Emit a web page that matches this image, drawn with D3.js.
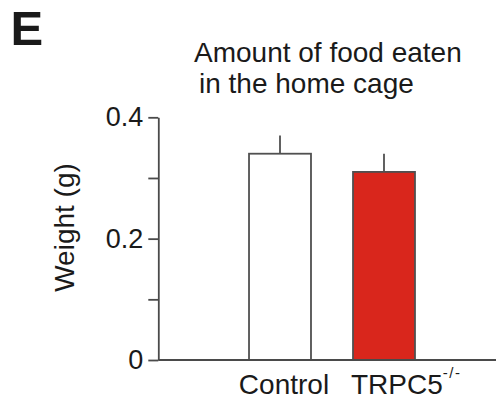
<!DOCTYPE html>
<html>
<head>
<meta charset="utf-8">
<script src="https://cdn.jsdelivr.net/npm/d3@7"></script>
<style>
  html, body { margin: 0; padding: 0; background: #fff; }
  svg { display: block; }
  text { font-family: Arial, "Liberation Sans", Helvetica, sans-serif; fill: #1a1a1a; }
</style>
</head>
<body>
<svg id="chart" width="498" height="402"></svg>
<script>
// Food intake in the home cage, control vs knockout
const groups = ["Control", "TRPC5"];
const means = [0.34, 0.31];
const sems = [0.03, 0.03];
const fills = ["#ffffff", "#d9261c"];
const tickValues = [0, 0.1, 0.2, 0.3, 0.4];
const tickLabels = { 0: "0", 0.2: "0.2", 0.4: "0.4" };

const svg = d3.select("#chart");
const axisColor = "#4a4a4a";

const y = d3.scaleLinear().domain([0, 0.4]).range([360, 117.3]);
const x = d3.scaleBand()
  .domain(groups)
  .range([207, 457])
  .paddingInner(0.404)
  .paddingOuter(0.404);

const axisX0 = 158.3;
const axisX1 = 496;

// Panel letter
svg.append("text")
  .attr("x", 10.5).attr("y", 45)
  .attr("font-size", 49).attr("font-weight", "bold")
  .text("E");

// Title
const title = svg.append("text").attr("font-size", 28);
title.append("tspan").attr("x", 194).attr("y", 62).text("Amount of food eaten");
title.append("tspan").attr("x", 199).attr("y", 93).text("in the home cage");

// Y axis
const yAxis = d3.axisLeft(y)
  .tickValues(tickValues)
  .tickSize(10)
  .tickSizeOuter(0)
  .tickPadding(5)
  .tickFormat(d => tickLabels[d] !== undefined ? tickLabels[d] : "");

const gy = svg.append("g")
  .attr("transform", `translate(${axisX0},0)`)
  .call(yAxis);
gy.selectAll("path, line").attr("stroke", axisColor).attr("stroke-width", 1.8);
gy.selectAll("text")
  .attr("font-size", 27)
  .attr("font-family", "Arial, 'Liberation Sans', sans-serif")
  .attr("fill", "#1a1a1a");

// Y axis title
svg.append("text")
  .attr("transform", `translate(74.3,227.5) rotate(-90)`)
  .attr("text-anchor", "middle")
  .attr("font-size", 28)
  .text("Weight (g)");

// Bars
svg.append("g").selectAll("rect")
  .data(groups)
  .join("rect")
  .attr("x", d => x(d))
  .attr("y", (d, i) => y(means[i]))
  .attr("width", x.bandwidth())
  .attr("height", (d, i) => y(0) - y(means[i]))
  .attr("fill", (d, i) => fills[i])
  .attr("stroke", "#505050")
  .attr("stroke-width", 1.8);

// Error bars (upper half only)
svg.append("g").selectAll("line")
  .data(groups)
  .join("line")
  .attr("x1", d => x(d) + x.bandwidth() / 2)
  .attr("x2", d => x(d) + x.bandwidth() / 2)
  .attr("y1", (d, i) => y(means[i]))
  .attr("y2", (d, i) => y(means[i] + sems[i]))
  .attr("stroke", "#505050")
  .attr("stroke-width", 1.8);

// X axis baseline
svg.append("line")
  .attr("x1", axisX0).attr("x2", axisX1)
  .attr("y1", y(0)).attr("y2", y(0))
  .attr("stroke", axisColor).attr("stroke-width", 1.8);

// Group labels
svg.append("text")
  .attr("x", x("Control") + x.bandwidth() / 2 + 4)
  .attr("y", 394)
  .attr("text-anchor", "middle")
  .attr("font-size", 28)
  .text("Control");

const ko = svg.append("text")
  .attr("x", x("TRPC5") - 2)
  .attr("y", 394)
  .attr("font-size", 28);
ko.append("tspan").text("TRPC5");
ko.append("tspan")
  .attr("font-size", 15)
  .attr("letter-spacing", 1.5)
  .attr("dy", -16)
  .text("-/-");
</script>
</body>
</html>
